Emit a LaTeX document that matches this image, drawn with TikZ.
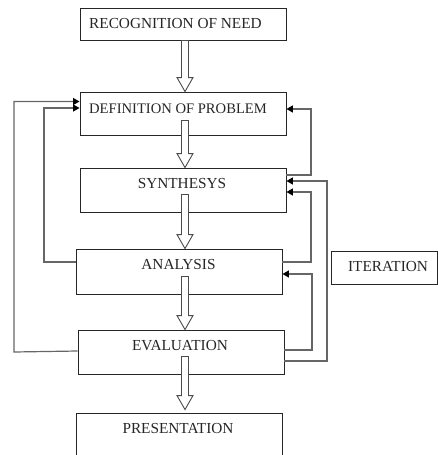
\documentclass[tikz,border=0pt]{standalone}
\usepackage{fontspec}
\setmainfont{Liberation Serif}
\usetikzlibrary{arrows.meta,calc}
\newcommand\blockarrow[2]{%
  \path let \p1=(#1), \p2=(#2) in [barrow]
    (\x1-3.5pt,\y1) -- (\x1-3.5pt,\y2+14pt) -- (\x1-8pt,\y2+14pt) -- (\x1,\y2)
    -- (\x1+8pt,\y2+14pt) -- (\x1+3.5pt,\y2+14pt) -- (\x1+3.5pt,\y1) -- cycle;}
\begin{document}
\begin{tikzpicture}[x=1pt,y=-1pt,
  box/.style={draw=black!85, line width=0.9pt, inner sep=0pt},
  lbl/.style={font=\fontsize{15.3}{18}\selectfont, inner sep=0pt, anchor=base, text=black!85},
  barrow/.style={draw=black!70, fill=white, line width=0.9pt},
  fb/.style={draw=black!60, line width=1.2pt, -{Triangle[length=6.5pt,width=7pt,color=black]}}]
\useasboundingbox (0,0) rectangle (438,455);
% boxes
\node[box, minimum width=206pt, minimum height=32pt] (rec) at (183,24) {};
\node[box, minimum width=206pt, minimum height=43pt] (def) at (183,113.5) {};
\node[box, minimum width=206pt, minimum height=44pt] (syn) at (183,190) {};
\node[box, minimum width=206pt, minimum height=45pt] (ana) at (179,271.5) {};
\node[box, minimum width=206pt, minimum height=44pt] (eva) at (181,352) {};
\node[box, minimum width=206pt, minimum height=46pt] (pre) at (179,436) {};
\node[box, minimum width=106pt, minimum height=33pt] (ite) at (384,267.5) {};
% labels
\node[lbl, anchor=base west] (trec) at (89,28.3) {RECOGNITION OF NEED};
\node[lbl, anchor=base west, font=\fontsize{14.6}{17}\selectfont] (tdef) at (89,113) {DEFINITION OF PROBLEM};
\node[lbl] (tsyn) at (182,188) {SYNTHESYS};
\node[lbl] (tana) at (178.5,269.3) {ANALYSIS};
\node[lbl] (tite) at (388,271.5) {ITERATION};
\node[lbl] (teva) at (180,350) {EVALUATION};
\node[lbl] (tpre) at (178,433.3) {PRESENTATION};
% block arrows
\blockarrow{$(rec.south)+(2pt,0pt)$}{$(def.north)+(2pt,0pt)$}
\blockarrow{$(def.south)+(2pt,15pt)$}{$(syn.north)+(2pt,0pt)$}
\blockarrow{$(syn.south)+(2pt,18pt)$}{$(ana.north)+(6pt,0pt)$}
\blockarrow{$(ana.south)+(6pt,18pt)$}{$(eva.north)+(4pt,0pt)$}
\blockarrow{$(eva.south)+(4pt,18pt)$}{$(pre.north)+(6pt,3pt)$}
% feedback lines
\draw[fb] (eva.west |- 0,351) -- (14,352) -- (14,101.5) -- (def.west |- 0,101.5);
\draw[fb] (ana.west |- 0,262) -- (44,262) -- (44,108) -- (def.west |- 0,108);
\draw[fb] (syn.east |- 0,175) -- (311,175) -- (311,109) -- (def.east |- 0,109);
\draw[fb] (eva.east |- 0,361) -- (327,361) -- (327,181) -- (syn.east |- 0,181);
\draw[fb] (ana.east |- 0,262) -- (311,262) -- (311,192) -- (syn.east |- 0,192);
\draw[fb] (eva.east |- 0,350) -- (312,350) -- (312,274) -- (ana.east |- 0,274);
\end{tikzpicture}
\end{document}
